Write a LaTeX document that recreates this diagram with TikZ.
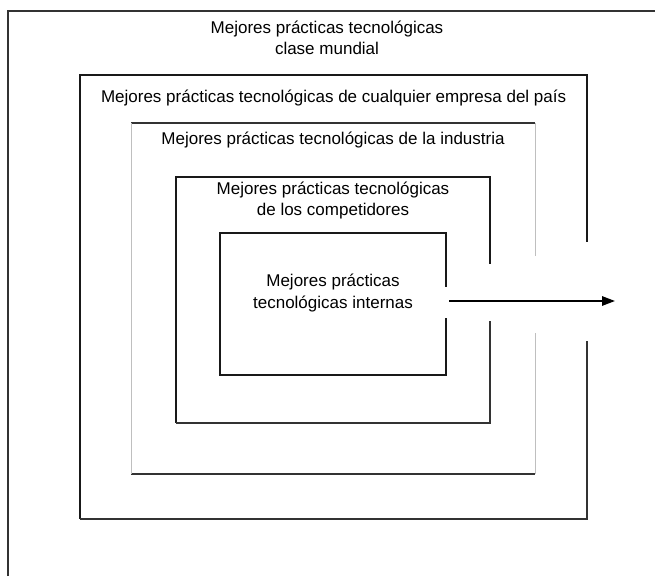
\documentclass[tikz,border=0pt]{standalone}
\usepackage{fontspec}
\setmainfont{Liberation Sans}
\usetikzlibrary{arrows.meta}

\begin{document}
\begin{tikzpicture}[every node/.style={font=\fontsize{12.1}{15}\selectfont, align=center}, >={Triangle[length=3.2mm,width=2.3mm]},
	heavy/.style={line width=1.5pt, black!90},
	light/.style={line width=1pt, black!80},
	faint/.style={line width=0.5pt, black!25}]
	\useasboundingbox (0,0) rectangle (16.375,14.4);
	% outer frame, open to the right and below
	\draw[light] (0.2,0) -- (0.2,14.125) -- (16.375,14.125);
	\node (mundial) at (8.175,13.46) {Mejores prácticas tecnológicas\\clase mundial};
	% country
	\draw[heavy] (14.675,8.35) -- (14.675,12.525) -- (2,12.525) -- (2,1.425);
	\draw[light] (2,1.425) -- (14.675,1.425) -- (14.675,5.875);
	\node (pais) at (8.34,11.95) {Mejores prácticas tecnológicas de cualquier empresa del país};
	% industry
	\draw[light] (3.275,11.325) -- (13.375,11.325); \draw[light] (3.275,2.55) -- (13.375,2.55);
	\draw[faint] (13.375,8.0) -- (13.375,11.325); \draw[faint] (3.275,11.325) -- (3.275,2.55);
	\draw[faint] (13.375,2.55) -- (13.375,6.075);
	\node (industria) at (8.325,10.9) {Mejores prácticas tecnológicas de la industria};
	% competitors
	\draw[heavy] (12.25,7.8) -- (12.25,9.975) -- (4.4,9.975) -- (4.4,3.825);
	\draw[light] (4.4,3.825) -- (12.25,3.825) -- (12.25,6.375);
	\node (competidores) at (8.325,9.39) {Mejores prácticas tecnológicas\\de los competidores};
	% internal
	\draw[heavy] (11.15,7.225) -- (11.15,8.575) -- (5.5,8.575) -- (5.5,5.025) -- (11.15,5.025) -- (11.15,6.45);
	\node (internas) at (8.325,7.075) {Mejores prácticas\\tecnológicas internas};
	\coordinate (desde) at (11.225,6.875);
	\coordinate (hacia) at (15.375,6.875);
	\draw[->, line width=1.3pt] (desde) -- (hacia);
\end{tikzpicture}
\end{document}
